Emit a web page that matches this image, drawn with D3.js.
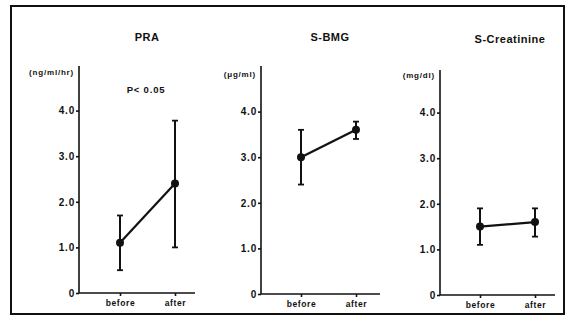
<!DOCTYPE html>
<html>
<head>
<meta charset="utf-8">
<script src="https://cdn.jsdelivr.net/npm/d3@7"></script>
<style>
  body { margin: 0; background: #fff; }
  svg { font-family: "Liberation Sans", Arial, sans-serif; }
  .axis path, .axis line { stroke: #111; stroke-width: 1.6; }
  .axis text { font-size: 10px; font-weight: bold; fill: #111; letter-spacing: 0.8px; }
</style>
</head>
<body>
<div id="chart"></div>
<script>
// data
var groups = ["before", "after"];
var yTicks = [0, 1, 2, 3, 4];

var praMean = [1.1, 2.4];
var praLow = [0.5, 1.0];
var praHigh = [1.7, 3.78];

var bmgMean = [3.0, 3.6];
var bmgLow = [2.4, 3.4];
var bmgHigh = [3.6, 3.78];

var crMean = [1.5, 1.6];
var crLow = [1.1, 1.28];
var crHigh = [1.9, 1.9];

var width = 574, height = 329;

var svg = d3.select("#chart").append("svg")
  .attr("width", width)
  .attr("height", height);

// outer frame
svg.append("rect")
  .attr("x", 11).attr("y", 6)
  .attr("width", 553).attr("height", 308)
  .attr("fill", "none")
  .attr("stroke", "#111")
  .attr("stroke-width", 2);

var panels = [
  { title: "PRA", unit: "(ng/ml/hr)", mean: praMean, low: praLow, high: praHigh,
    left: 79, right: 195, top: 66, bottom: 293, px: [120, 175], titleX: 147, titleY: 41, unitY: 75,
    note: "P< 0.05" },
  { title: "S-BMG", unit: "(\u03bcg/ml)", mean: bmgMean, low: bmgLow, high: bmgHigh,
    left: 261, right: 380, top: 66, bottom: 294, px: [301, 356], titleX: 330, titleY: 41, unitY: 77 },
  { title: "S-Creatinine", unit: "(mg/dl)", mean: crMean, low: crLow, high: crHigh,
    left: 440, right: 555, top: 70, bottom: 295, px: [480, 535], titleX: 510, titleY: 43, unitY: 78 }
];

panels.forEach(function (p) {
  var g = svg.append("g");

  var x = d3.scalePoint().domain(groups).range(p.px);
  var y = d3.scaleLinear().domain([0, 4]).range([p.bottom, p.bottom - 4 * 45.6]);

  // y axis
  var yAxis = d3.axisLeft(y)
    .tickValues(yTicks)
    .tickSize(3)
    .tickPadding(1)
    .tickSizeOuter(0)
    .tickFormat(function (d) { return d === 0 ? "0" : d3.format(".1f")(d); });
  g.append("g").attr("class", "axis")
    .attr("transform", "translate(" + p.left + ",0)")
    .call(yAxis)
    .select(".domain").remove();
  g.append("line")
    .attr("x1", p.left).attr("x2", p.left)
    .attr("y1", p.top).attr("y2", p.bottom)
    .attr("stroke", "#111").attr("stroke-width", 1.6);

  // x axis
  g.append("line")
    .attr("x1", p.left).attr("x2", p.right)
    .attr("y1", p.bottom).attr("y2", p.bottom)
    .attr("stroke", "#111").attr("stroke-width", 1.6);
  var xAxis = d3.axisBottom(x).tickSize(3).tickPadding(4);
  g.append("g").attr("class", "axis")
    .attr("transform", "translate(0," + p.bottom + ")")
    .call(xAxis)
    .call(function (s) { s.select(".domain").remove(); })
    .selectAll("text").style("font-size", "8.5px").style("letter-spacing", "0.6px");

  // error bars
  groups.forEach(function (k, i) {
    var cx = x(k);
    g.append("line")
      .attr("x1", cx).attr("x2", cx)
      .attr("y1", y(p.low[i])).attr("y2", y(p.high[i]))
      .attr("stroke", "#111").attr("stroke-width", 2);
    [p.low[i], p.high[i]].forEach(function (v) {
      g.append("line")
        .attr("x1", cx - 3).attr("x2", cx + 3)
        .attr("y1", y(v)).attr("y2", y(v))
        .attr("stroke", "#111").attr("stroke-width", 1.8);
    });
  });

  // mean line and dots
  var line = d3.line()
    .x(function (d, i) { return x(groups[i]); })
    .y(function (d) { return y(d); });
  g.append("path")
    .datum(p.mean)
    .attr("d", line)
    .attr("fill", "none")
    .attr("stroke", "#111")
    .attr("stroke-width", 2.2);
  g.selectAll(".dot").data(p.mean).enter().append("circle")
    .attr("cx", function (d, i) { return x(groups[i]); })
    .attr("cy", function (d) { return y(d); })
    .attr("r", 4)
    .attr("fill", "#111");

  // labels
  g.append("text")
    .attr("x", p.titleX).attr("y", p.titleY)
    .attr("text-anchor", "middle")
    .style("font-size", "11px")
    .style("font-weight", "bold")
    .style("letter-spacing", "0.5px")
    .attr("fill", "#111")
    .text(p.title);
  g.append("text")
    .attr("x", p.left - 5).attr("y", p.unitY)
    .attr("text-anchor", "end")
    .style("font-size", "8px")
    .style("font-weight", "bold")
    .style("letter-spacing", "0.8px")
    .attr("fill", "#111")
    .text(p.unit);
  if (p.note) {
    g.append("text")
      .attr("x", 146).attr("y", 93)
      .attr("text-anchor", "middle")
      .style("font-size", "9.5px")
      .style("font-weight", "bold")
      .style("letter-spacing", "0.8px")
      .attr("fill", "#111")
      .text(p.note);
  }
});
</script>
</body>
</html>
